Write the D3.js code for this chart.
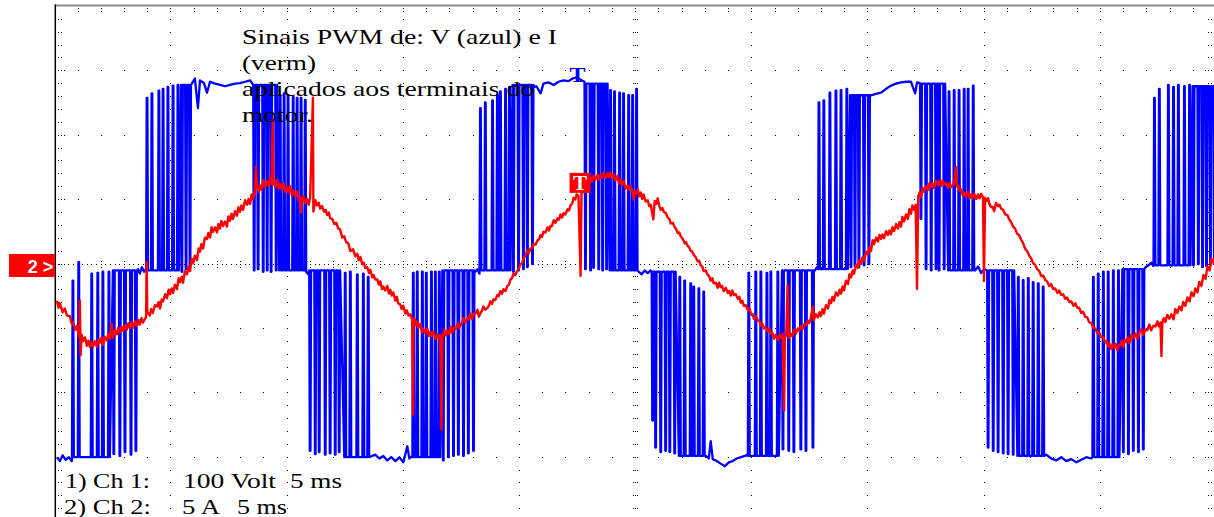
<!DOCTYPE html>
<html>
<head>
<meta charset="utf-8">
<script src="https://cdn.jsdelivr.net/npm/d3@7"></script>
<style>
  html, body { margin: 0; padding: 0; background: #fff; }
  svg { display: block; }
</style>
</head>
<body>
<svg id="scope" width="1214" height="517"></svg>
<script>
// Ch 1 (voltage, V): flat stretches of the trace, [t ms, volts]
const vFlats = [
  [[0.09,-300],[0.22,-306],[0.34,-297],[0.47,-304],[0.60,-300],[0.73,-306]],
  [[3.58,-8],[3.66,-15],[3.75,-5],[3.84,-12],[3.92,-8]],
  [[5.91,281],[6.03,288],[6.16,242],[6.25,285],[6.42,281],[6.55,266],[6.68,283],[6.90,280],[7.11,278],[7.33,276],[7.54,278],[7.76,280],[7.97,281],[8.19,283],[8.41,285]],
  [[10.82,-12],[10.91,-16]],
  [[13.79,-296],[13.97,-302],[14.14,-298],[14.31,-305],[14.48,-300],[14.66,-306],[14.83,-300],[15.00,-308],[15.17,-283],[15.26,-302],[15.39,-298]],
  [[18.10,-12],[18.19,-8],[18.28,-15]],
  [[20.65,275],[20.73,276],[20.91,265],[21.03,280],[21.25,282],[21.47,278],[21.68,283],[21.90,285],[22.11,284],[22.28,288],[22.46,290],[22.63,286],[22.80,283]],
  [[25.13,-12],[25.26,-16],[25.39,-10],[25.52,-14],[25.65,-10]],
  [[28.02,-298],[28.15,-302],[28.23,-275],[28.32,-303],[28.49,-306],[28.66,-310],[28.84,-314],[29.01,-308],[29.18,-306],[29.35,-302],[29.53,-300],[29.70,-298],[29.83,-296]],
  [[32.72,-10],[32.80,-5]],
  [[35.13,262],[35.34,264],[35.56,266],[35.78,272],[35.99,277],[36.21,280],[36.42,282],[36.64,283],[36.85,283],[37.03,265],[37.11,282],[37.24,281]],
  [[39.61,-10],[39.74,-4],[39.87,-14],[40.00,-8]],
  [[42.67,-296],[42.89,-302],[43.10,-305],[43.32,-300],[43.53,-306],[43.75,-303],[43.97,-308],[44.18,-304],[44.40,-300],[44.61,-302]],
  [[46.94,-5],[47.07,-2],[47.20,2],[47.28,-3]],
  [[50.0,276]]
];

// Ch 1 PWM bursts: base = level between pulses, pulses = [t ms, level reached]
const vBursts = [
  { base: -300, pulses: [[0.78,-26],[1.03,3],[1.59,-15],[1.85,-14],[2.07,-12],[2.33,-12]] },
  { base: -10,  pulses: [[2.54,-295],[2.80,-298],[3.02,-292],[3.28,-296],[3.49,-290]] },
  { base: -10,  pulses: [[3.97,258],[4.18,265],[4.48,269],[4.66,272],[4.87,275],[5.09,277],[5.30,278]] },
  { base: 278,  pulses: [[5.47,-12],[5.65,-8],[5.82,-3]] },
  { base: 278,  pulses: [[8.58,-10],[8.75,-8],[8.97,-12],[9.14,-10],[9.31,-12],[9.53,-10]] },
  { base: -10,  pulses: [[9.70,262],[9.87,265],[10.04,262],[10.26,260],[10.43,258],[10.60,258],[10.78,255]] },
  { base: -10,  pulses: [[10.99,-290],[11.21,-295],[11.38,-292],[11.64,-296],[11.85,-294],[12.07,-296],[12.24,-292]] },
  { base: -300, pulses: [[12.50,-14],[12.72,-12],[13.02,-16],[13.28,-15],[13.49,-20]] },
  { base: -300, pulses: [[15.43,-14],[15.60,-12],[15.82,-12],[15.99,-14],[16.21,-12],[16.38,-12],[16.55,-12]] },
  { base: -10,  pulses: [[16.72,-305],[16.94,-300],[17.16,-298],[17.37,-296],[17.59,-298],[17.80,-294],[18.02,-290]] },
  { base: -10,  pulses: [[18.32,242],[18.53,251],[18.84,254],[19.05,262],[19.18,268],[19.40,272],[19.57,275]] },
  { base: 278,  pulses: [[19.74,-12],[19.96,-10],[20.17,-8],[20.34,-5],[20.56,0]] },
  { base: 280,  pulses: [[22.84,-8],[23.06,-10],[23.19,-6],[23.41,-8],[23.58,-10],[23.75,-8]] },
  { base: -10,  pulses: [[23.92,270],[24.09,268],[24.31,266],[24.48,265],[24.70,262],[24.87,262],[25.04,272]] },
  { base: -12,  pulses: [[25.73,-243],[25.86,-285],[26.08,-292],[26.29,-290],[26.47,-292],[26.68,-294]] },
  { base: -298, pulses: [[26.90,-20],[27.11,-26],[27.37,-30],[27.50,-35],[27.72,-38],[27.93,-43]] },
  { base: -298, pulses: [[29.87,-14],[30.17,-12],[30.39,-12],[30.65,-14],[30.82,-12],[31.12,-12]] },
  { base: -10,  pulses: [[31.34,-288],[31.59,-290],[31.81,-292],[32.11,-288],[32.33,-290],[32.63,-285]] },
  { base: -8,   pulses: [[32.89,251],[33.10,254],[33.36,266],[33.62,269],[33.84,270],[34.09,272]] },
  { base: 262,  pulses: [[34.27,-5],[34.44,-3],[34.61,-5],[34.83,-2],[35.04,0]] },
  { base: 280,  pulses: [[37.28,70],[37.50,-8],[37.72,-10],[37.93,-8],[38.06,-10],[38.28,-8]] },
  { base: -10,  pulses: [[38.49,268],[38.71,270],[38.92,270],[39.14,272],[39.31,272],[39.53,277]] },
  { base: -10,  pulses: [[40.17,-285],[40.39,-290],[40.60,-292],[40.82,-294],[41.03,-295],[41.25,-296]] },
  { base: -298, pulses: [[41.47,-20],[41.68,-25],[41.90,-22],[42.11,-28],[42.33,-30],[42.54,-35]] },
  { base: -300, pulses: [[44.70,-20],[44.91,-15],[45.13,-12],[45.34,-12],[45.56,-10],[45.78,-10]] },
  { base: -8,   pulses: [[45.99,-292],[46.21,-295],[46.42,-290],[46.64,-292],[46.85,-288]] },
  { base: -2,   pulses: [[47.33,258],[47.54,272],[47.93,278],[48.15,275],[48.36,278],[48.62,276],[48.84,278]] },
  { base: 276,  pulses: [[49.01,-2],[49.22,0],[49.40,-5],[49.57,-3],[49.74,-2],[49.91,0]] }
];
const pulseWidth = 0.08; // ms

// Ch 2 (current, A): [t ms, amps]
const iTrace = [
  [0.09,-2.85],[0.16,-3.4],[0.22,-3.05],[0.34,-3.75],[0.43,-3.45],[0.52,-4.0],[0.65,-4.05],[0.72,-4.6],[0.78,-4.55],[0.88,-5.1],[0.95,-4.8],[1.05,-5.7],
  [1.08,-2.85],[1.11,-7.08],[1.16,-5.5],[1.21,-6.0],[1.30,-5.7],[1.38,-6.35],[1.45,-5.95],[1.51,-6.45],[1.58,-6.05],[1.64,-6.4],[1.72,-6.0],[1.81,-6.45],[1.88,-5.85],[1.94,-6.1],
  [2.01,-5.7],[2.07,-6.3],[2.15,-5.65],[2.24,-5.95],[2.30,-5.45],[2.37,-5.8],[2.44,-4.62],[2.50,-5.75],[2.58,-5.15],[2.67,-5.45],[2.73,-4.95],[2.80,-5.35],[2.87,-4.85],[2.93,-5.2],
  [3.02,-4.75],[3.10,-5.1],[3.17,-4.6],[3.23,-4.95],[3.30,-4.55],[3.36,-4.95],[3.45,-4.45],[3.53,-4.8],[3.60,-4.35],[3.66,-4.7],[3.73,-4.2],[3.79,-4.55],[3.93,-4.1],[3.95,0.15],[3.98,-3.69],
  [4.09,-4.0],[4.15,-3.5],[4.22,-3.8],[4.31,-3.2],[4.40,-3.3],[4.47,-2.95],[4.53,-3.45],[4.60,-2.75],[4.66,-2.9],[4.75,-2.35],[4.83,-2.65],[4.90,-2.0],[4.96,-2.35],[5.03,-1.9],[5.09,-2.25],
  [5.17,-1.6],[5.26,-1.95],[5.33,-1.1],[5.39,-1.4],[5.46,-1.0],[5.52,-1.45],[5.60,-0.55],[5.69,-0.8],[5.76,-0.2],[5.82,-0.55],[5.89,0.4],[5.95,0.05],[6.03,0.65],[6.12,0.3],[6.19,1.2],[6.25,0.95],
  [6.31,1.55],[6.38,1.2],[6.46,2.05],[6.55,1.95],[6.61,2.4],[6.68,2.05],[6.75,2.85],[6.81,2.5],[6.90,2.85],[6.98,2.45],[7.04,3.1],[7.11,2.75],[7.17,3.35],[7.24,2.95],[7.33,3.3],[7.41,2.9],
  [7.47,3.7],[7.54,3.35],[7.61,3.9],[7.67,3.5],[7.76,4.1],[7.84,3.75],[7.90,4.4],[7.97,4.05],[8.03,4.55],[8.10,4.2],[8.19,4.95],[8.28,4.6],[8.34,5.05],[8.41,4.65],[8.47,5.4],[8.53,5.05],
  [8.60,5.5],[8.66,7.54],[8.71,6.0],[8.78,5.6],[8.84,6.1],[8.90,5.75],[8.97,6.5],[9.05,6.0],[9.14,6.4],[9.20,6.05],[9.27,6.7],[9.33,6.2],[9.38,11.15],[9.41,6.31],
  [9.49,6.0],[9.57,6.55],[9.63,5.85],[9.70,6.2],[9.77,5.8],[9.83,6.3],[9.92,5.6],[10.00,5.95],[10.06,5.55],[10.13,6.05],[10.20,5.35],[10.26,5.7],[10.35,5.25],[10.43,5.65],[10.50,4.95],[10.56,5.2],
  [10.59,4.0],[10.63,4.9],[10.69,5.3],[10.77,4.75],[10.86,5.05],[10.93,4.6],[10.99,5.15],[11.11,12.92],[11.13,4.08],[11.21,4.95],[11.29,4.55],[11.36,4.75],[11.42,4.3],
  [11.50,4.5],[11.59,4.05],[11.66,4.2],[11.72,3.8],[11.79,4.0],[11.85,3.55],[11.94,3.5],[12.03,3.1],[12.12,3.2],[12.20,2.75],[12.28,2.7],[12.37,2.05],[12.46,2.15],[12.54,1.7],[12.63,1.6],[12.72,1.0],
  [12.84,1.15],[12.93,0.6],[13.02,0.8],[13.08,0.3],[13.15,0.55],[13.23,0.0],[13.30,0.1],[13.36,-0.3],[13.45,-0.25],[13.52,-0.7],[13.58,-0.45],[13.66,-1.05],
  [13.72,-0.85],[13.79,-1.2],[13.88,-1.2],[13.95,-1.6],[14.01,-1.35],[14.08,-1.95],[14.14,-1.75],[14.22,-2.05],[14.31,-1.7],[14.38,-2.3],[14.44,-2.0],[14.50,-2.45],[14.57,-2.2],[14.66,-2.85],
  [14.72,-2.55],[14.78,-3.05],[14.87,-3.15],[14.93,-3.5],[15.00,-3.25],[15.09,-3.85],[15.15,-3.6],[15.22,-4.0],[15.30,-3.9],[15.38,-4.3],[15.42,-11.69],[15.43,-4.38],
  [15.48,-4.2],[15.52,-4.75],[15.58,-4.45],[15.65,-4.95],[15.73,-4.65],[15.80,-5.3],[15.86,-5.05],[15.95,-5.4],[16.03,-5.0],[16.10,-5.6],[16.16,-5.3],[16.22,-5.6],[16.29,-5.25],[16.38,-5.8],[16.47,-5.5],
  [16.54,-5.85],[16.59,-5.5],[16.64,-12.85],[16.68,-5.7],[16.77,-5.1],[16.84,-5.55],[16.90,-5.2],[16.97,-5.45],[17.03,-4.85],[17.10,-5.35],[17.16,-4.95],[17.25,-5.05],[17.33,-4.6],
  [17.40,-5.0],[17.46,-4.7],[17.52,-4.6],[17.59,-4.2],[17.67,-4.55],[17.76,-4.2],[17.83,-4.3],[17.89,-3.85],[17.95,-4.25],[18.02,-3.9],[18.10,-3.85],[18.19,-3.55],[18.25,-4.1],[18.32,-3.8],[18.38,-3.65],[18.45,-3.3],
  [18.53,-3.55],[18.62,-3.4],[18.68,-3.25],[18.75,-2.9],[18.82,-3.1],[18.88,-2.75],[18.96,-2.8],[19.05,-2.4],[19.11,-2.5],[19.18,-2.1],[19.25,-2.3],[19.31,-1.95],[19.40,-2.1],[19.48,-1.7],[19.55,-1.6],[19.61,-1.2],
  [19.68,-1.1],[19.74,-0.75],[19.82,-0.85],[19.91,-0.5],[19.98,-0.35],[20.04,0.0],[20.11,0.05],[20.17,0.4],[20.26,0.7],[20.34,1.1],[20.40,0.85],[20.47,1.2],[20.53,1.2],[20.60,1.55],[20.69,1.5],[20.78,1.85],
  [20.84,1.9],[20.91,2.25],[20.97,2.1],[21.03,2.5],[21.12,2.45],[21.21,2.85],[21.27,2.6],[21.34,2.95],[21.40,2.95],[21.47,3.4],[21.55,3.2],[21.64,3.55],[21.70,3.45],[21.77,3.85],[21.83,3.6],[21.90,3.95],
  [21.98,3.85],[22.07,4.25],[22.13,4.15],[22.20,4.55],[22.27,4.7],[22.33,5.15],[22.40,5.0],[22.46,5.4],[22.54,5.3],[22.63,-0.92],[22.67,5.6],[22.72,5.55],[22.76,5.9],
  [22.84,5.85],[22.93,6.3],[23.00,6.2],[23.06,6.7],[23.12,6.4],[23.19,6.85],[23.27,6.55],[23.36,6.95],[23.42,6.55],[23.49,6.9],[23.55,6.7],[23.62,7.1],[23.70,6.7],[23.79,7.05],[23.85,6.75],[23.92,7.1],
  [23.98,6.65],[24.05,6.95],[24.13,6.5],[24.22,6.85],[24.28,6.25],[24.35,6.55],[24.42,6.15],[24.48,6.45],[24.57,5.85],[24.66,6.1],[24.72,5.75],[24.78,6.05],[24.85,5.7],[24.91,5.0],[24.96,5.62],
  [25.03,5.45],[25.09,5.8],[25.16,5.25],[25.22,5.55],[25.28,5.05],[25.34,5.4],[25.43,4.85],[25.52,4.95],[25.58,4.5],[25.65,4.6],[25.76,3.46],[25.82,4.9],[25.88,4.65],[25.95,5.1],
  [26.02,4.5],[26.08,4.2],[26.15,4.35],[26.21,4.05],[26.30,3.95],[26.38,3.6],[26.45,3.5],[26.51,3.15],[26.60,3.2],[26.68,2.85],[26.75,2.7],[26.81,2.4],[26.88,2.45],[26.94,2.15],[27.03,1.95],[27.11,1.6],
  [27.17,1.7],[27.24,1.4],[27.30,1.3],[27.37,1.0],[27.43,1.0],[27.50,0.7],[27.58,0.55],[27.67,0.2],[27.73,0.25],[27.80,-0.1],[27.87,-0.2],[27.93,-0.55],[28.02,-0.5],[28.10,-0.85],[28.16,-0.95],[28.23,-1.3],
  [28.30,-1.1],[28.36,-1.5],[28.45,-1.45],[28.53,-1.85],[28.59,-1.45],[28.66,-1.8],[28.72,-1.7],[28.79,-2.1],[28.88,-1.85],[28.97,-2.25],[29.03,-2.1],[29.09,-2.45],[29.16,-2.05],[29.22,-2.4],[29.31,-2.35],[29.40,-2.7],
  [29.46,-2.55],[29.53,-3.0],[29.59,-2.85],[29.66,-3.25],[29.75,-3.2],[29.83,-3.6],[29.90,-3.45],[29.96,-3.85],[30.03,-3.9],[30.09,-4.25],[30.18,-4.05],[30.26,-4.4],[30.32,-4.4],[30.39,-4.8],[30.46,-4.65],[30.52,-5.0],
  [30.60,-4.9],[30.69,-5.25],[30.75,-5.0],[30.82,-5.4],[30.89,-5.35],[30.95,-5.8],[31.03,-5.5],[31.12,-5.9],[31.18,-5.55],[31.25,-5.7],[31.32,-5.4],[31.39,-11.38],[31.42,-5.77],[31.48,-5.5],[31.54,-1.69],
  [31.59,-5.75],[31.68,-5.4],[31.74,-5.6],[31.81,-5.1],[31.90,-5.4],[31.98,-5.0],[32.04,-5.2],[32.11,-4.8],[32.18,-5.05],[32.24,-4.7],[32.33,-4.75],[32.41,-4.4],[32.47,-4.6],[32.54,-4.2],
  [32.62,-3.31],[32.67,-4.35],[32.75,-3.9],[32.84,-4.15],[32.91,-3.75],[32.97,-4.05],[33.04,-3.5],[33.10,-3.85],[33.19,-3.2],[33.28,-3.45],[33.34,-2.8],[33.41,-3.05],[33.47,-2.55],[33.53,-2.85],
  [33.62,-2.2],[33.71,-2.45],[33.78,-2.0],[33.84,-2.3],[33.91,-1.75],[33.97,-2.05],[34.05,-1.3],[34.14,-1.55],[34.20,-0.8],[34.27,-1.05],[34.34,-0.5],[34.40,-0.75],[34.48,-0.05],[34.57,-0.3],[34.63,0.3],[34.70,0.0],
  [34.76,0.5],[34.83,0.25],[34.92,0.95],[35.00,0.75],[35.07,1.3],[35.13,1.0],[35.20,1.85],[35.26,1.55],[35.35,2.05],[35.43,1.75],[35.49,2.25],[35.56,1.95],[35.62,2.3],[35.69,2.0],[35.78,2.55],[35.86,2.25],
  [35.92,2.6],[35.99,2.3],[36.05,2.85],[36.12,2.55],[36.21,3.1],[36.29,2.75],[36.35,3.25],[36.42,2.9],[36.48,3.65],[36.55,3.3],[36.64,3.85],[36.72,3.5],[36.78,4.25],[36.85,3.9],[36.91,4.55],[36.98,4.2],
  [37.05,4.6],[37.11,-1.92],[37.16,5.23],[37.22,5.55],[37.28,5.2],[37.35,5.9],[37.41,5.6],[37.50,6.05],[37.59,5.75],[37.65,6.3],[37.72,6.0],[37.78,6.25],[37.84,5.9],[37.93,6.45],[38.02,6.15],
  [38.08,6.45],[38.15,6.05],[38.21,6.5],[38.28,6.15],[38.36,6.3],[38.45,5.9],[38.51,6.3],[38.58,5.95],[38.70,6.25],[38.79,7.54],[38.83,6.0],[38.88,6.1],[38.95,5.7],[39.01,5.8],[39.08,5.3],[39.14,5.55],
  [39.22,5.25],[39.31,5.6],[39.38,5.1],[39.44,5.4],[39.50,5.1],[39.57,5.45],[39.66,5.05],[39.74,5.4],[39.80,5.1],[39.87,5.45],[39.95,5.2],[39.99,-1.31],[40.04,5.15],[40.10,4.9],[40.17,5.1],
  [40.23,4.65],[40.30,4.4],[40.36,4.45],[40.43,4.1],[40.51,4.75],[40.60,4.5],[40.66,4.6],[40.73,4.3],[40.82,4.2],[40.91,3.85],[41.00,3.8],[41.08,3.45],[41.16,3.25],[41.25,2.9],[41.33,2.75],[41.42,2.35],
  [41.50,2.25],[41.59,1.9],[41.68,1.6],[41.77,1.15],[41.85,1.0],[41.94,0.65],[42.02,0.45],[42.11,0.05],[42.19,-0.05],[42.28,-0.4],[42.37,-0.55],[42.46,-0.95],[42.54,-0.9],[42.63,-1.25],[42.71,-1.35],[42.80,-1.7],
  [42.88,-1.55],[42.97,-1.95],[43.06,-1.9],[43.15,-2.25],[43.23,-2.05],[43.32,-2.4],[43.40,-2.35],[43.49,-2.7],[43.57,-2.6],[43.66,-2.95],[43.75,-2.9],[43.84,-3.25],[43.92,-3.05],[44.01,-3.4],[44.09,-3.4],[44.18,-3.8],
  [44.26,-3.7],[44.35,-4.1],[44.44,-4.15],[44.53,-4.55],[44.61,-4.55],[44.70,-4.95],[44.79,-5.0],[44.87,-5.4],[44.96,-5.35],[45.04,-5.7],[45.13,-5.7],[45.22,-6.1],[45.28,-6.0],[45.34,-6.4],[45.40,-6.2],[45.47,-6.6],
  [45.53,-6.25],[45.60,-6.5],[45.66,-6.2],[45.73,-6.7],[45.80,-6.3],[45.86,-6.35],[45.92,-5.95],[45.99,-6.45],[46.05,-5.9],[46.12,-6.05],[46.18,-5.7],[46.25,-6.15],[46.33,-5.5],[46.42,-5.75],[46.50,-5.4],[46.59,-5.8],
  [46.68,-5.35],[46.77,-5.05],[46.85,-5.5],[46.94,-5.1],[47.02,-5.15],[47.11,-4.7],[47.19,-5.15],[47.28,-4.8],[47.37,-4.85],[47.46,-4.45],[47.52,-4.85],[47.59,-4.55],[47.63,-7.15],[47.67,-4.54],
  [47.73,-4.2],[47.80,-4.5],[47.88,-3.95],[47.97,-4.25],[48.06,-3.9],[48.15,-4.3],[48.23,-3.5],[48.32,-3.8],[48.40,-3.3],[48.49,-3.6],[48.57,-2.95],[48.66,-3.25],[48.75,-2.6],[48.84,-2.9],[48.92,-2.2],[49.01,-2.5],
  [49.09,-1.9],[49.18,-2.2],[49.26,-1.4],[49.35,-1.7],[49.44,-0.85],[49.53,-1.15],[49.61,-0.2],[49.70,-0.5],[49.78,0.4],[49.87,0.1],[49.95,0.6]
];

// trigger marks (T) on both channels
const trigger = { t: 22.5, v: 283, i: 6.3 };

const noteLines = ["Sinais PWM de: V (azul) e I", "(verm)", "aplicados aos terminais do", "motor."];
const scaleLines = [
  ["1) Ch 1:", "100 Volt", "5 ms"],
  ["2) Ch 2:", "5 A", "5 ms"]
];

// ---- scales: 10 x 5 ms horizontally, 8 divisions vertically (100 V/div, 5 A/div)
const x = d3.scaleLinear().domain([0, 50]).range([54.8, 1216.5]);
const yV = d3.scaleLinear().domain([-400, 400]).range([521.6, 6.4]);
const yI = d3.scaleLinear().domain([-20, 20]).range([521.6, 6.4]);

const svg = d3.select("#scope");
const plotL = x(0), plotR = x(50), plotT = yV(400);

// ---- dotted graticule
const tMinor = x.ticks(50), tMajor = x.ticks(10), tFine = x.ticks(250);
const vMinor = yV.ticks(40), vMajor = yV.ticks(8);
const dots = [];
vMajor.filter(v => Math.abs(v) < 400 && v !== 0)
  .forEach(v => tMinor.forEach(t => dots.push([x(t), yV(v)])));
tMajor.filter(t => t > 0 && t < 50 && t !== 25)
  .forEach(t => vMinor.forEach(v => dots.push([x(t), yV(v)])));
tFine.forEach(t => dots.push([x(t), yV(0)]));
tMinor.forEach(t => dots.push([x(t), yV(0) - 3], [x(t), yV(0) + 3]));
vMinor.forEach(v => [-2.3, 0, 2.3].forEach(dx => dots.push([x(25) + dx, yV(v)])));
vMinor.forEach(v => {
  dots.push([plotL + 3.5, yV(v)], [plotL + 6.5, yV(v)]);
  dots.push([plotR - 5.5, yV(v)], [plotR - 8.5, yV(v)]);
});
vMajor.forEach(v => dots.push([plotL + 9.5, yV(v)], [plotR - 11.5, yV(v)]));
tMinor.forEach(t => dots.push([x(t), plotT + 2.5], [x(t), plotT + 5.5]));

svg.append("g")
  .attr("shape-rendering", "crispEdges")
  .selectAll("rect")
  .data(dots.filter(d => d[0] > plotL + 1 && d[0] < 1214 && d[1] > plotT + 1 && d[1] < 517))
  .join("rect")
  .attr("x", d => Math.floor(d[0]))
  .attr("y", d => Math.floor(d[1]))
  .attr("width", 1)
  .attr("height", 1)
  .attr("fill", "#000");

// frame
svg.append("line")
  .attr("x1", plotL).attr("x2", 1214).attr("y1", plotT - 1).attr("y2", plotT - 1)
  .attr("stroke", "#8a8a8a").attr("stroke-width", 2);
svg.append("line")
  .attr("x1", plotL + 0.5).attr("x2", plotL + 0.5).attr("y1", plotT - 2).attr("y2", 517)
  .attr("stroke", "#000").attr("stroke-width", 1.5);

// ---- Ch 1: flats plus pulses (each pulse has slightly sloped edges)
const vPoints = [];
vFlats.forEach(f => f.forEach(p => vPoints.push(p)));
vBursts.forEach(b => b.pulses.forEach(([t, v]) => {
  vPoints.push(
    [t - pulseWidth / 2, b.base],
    [t - pulseWidth / 6, v],
    [t + pulseWidth / 6, v],
    [t + pulseWidth / 2, b.base]
  );
}));
vPoints.sort((a, b) => a[0] - b[0]);

svg.append("path")
  .datum(vPoints)
  .attr("fill", "none")
  .attr("stroke", "#0000ff")
  .attr("stroke-width", 2.3)
  .attr("stroke-linejoin", "round")
  .attr("d", d3.line().x(d => x(d[0])).y(d => yV(d[1])));

// ---- Ch 2
svg.append("path")
  .datum(iTrace)
  .attr("fill", "none")
  .attr("stroke", "#ff0000")
  .attr("stroke-width", 2.4)
  .attr("stroke-linejoin", "round")
  .attr("d", d3.line().x(d => x(d[0])).y(d => yI(d[1])));

// ---- texts
const serif = "'Liberation Serif', 'Times New Roman', serif";
const noteWidths = [315, 74, 292, 71];
svg.append("g")
  .selectAll("text")
  .data(noteLines)
  .join("text")
  .attr("x", 242)
  .attr("y", (d, i) => 44 + i * 26)
  .attr("font-family", serif)
  .attr("font-size", 21)
  .attr("fill", "#000")
  .attr("textLength", (d, i) => noteWidths[i])
  .attr("lengthAdjust", "spacingAndGlyphs")
  .text(d => d);

const rowX = [[65, 183, 290], [64, 182, 237]];
const rowW = [[85, 93, 52], [87, 38, 50]];
scaleLines.forEach((row, r) => {
  row.forEach((s, c) => {
    svg.append("text")
      .attr("x", rowX[r][c])
      .attr("y", 488 + r * 26)
      .attr("font-family", serif)
      .attr("font-size", 20)
      .attr("fill", "#000")
      .attr("textLength", rowW[r][c])
      .attr("lengthAdjust", "spacingAndGlyphs")
      .text(s);
  });
});

// trigger marks
svg.append("text")
  .attr("x", x(trigger.t)).attr("y", yV(trigger.v))
  .attr("text-anchor", "middle")
  .attr("font-family", serif).attr("font-size", 22).attr("font-weight", "bold")
  .attr("fill", "#0000ff")
  .attr("textLength", 16).attr("lengthAdjust", "spacingAndGlyphs")
  .text("T");

const tb = svg.append("g").attr("transform", `translate(${x(trigger.t) + 2},${yI(trigger.i)})`);
tb.append("rect").attr("x", -10).attr("y", -10).attr("width", 21).attr("height", 20)
  .attr("fill", "#ff0000");
tb.append("text").attr("x", 0.5).attr("y", 7.5)
  .attr("text-anchor", "middle")
  .attr("font-family", serif).attr("font-size", 21).attr("font-weight", "bold")
  .attr("fill", "#fff")
  .text("T");

// channel 2 reference marker
svg.append("rect")
  .attr("x", 9).attr("y", yI(0) - 10).attr("width", plotL - 9).attr("height", 23)
  .attr("fill", "#ff0000");
svg.append("text")
  .attr("x", plotL - 1.5).attr("y", yI(0) + 8.5)
  .attr("text-anchor", "end")
  .attr("font-family", "'Liberation Sans', Arial, sans-serif")
  .attr("font-size", 18).attr("font-weight", "bold")
  .attr("fill", "#fff")
  .text("2 >");
</script>
</body>
</html>
